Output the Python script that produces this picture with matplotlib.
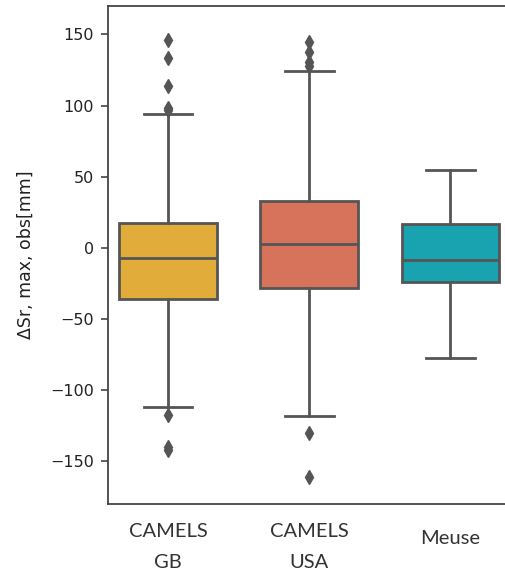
import matplotlib
matplotlib.use("Agg")
import matplotlib.pyplot as plt
from matplotlib.transforms import ScaledTranslation

# box statistics (mm)
datasets = ["CAMELS\nGB", "CAMELS\nUSA", "Meuse"]
colors = ["#E2AC3A", "#D7735A", "#19A3B0"]
q1 = [-35.9, -28.4, -24.4]
med = [-7.5, 2.3, -8.5]
q3 = [17.1, 33.1, 16.9]
whislo = [-111.7, -118.3, -77.2]
whishi = [93.7, 124.2, 54.9]
fliers = [
    [146.0, 133.6, 114.0, 98.4, 97.0, -117.6, -140.0, -142.0],
    [145.0, 138.0, 130.5, 127.7, -130.5, -161.0],
    [],
]

stats = []
for i, lab in enumerate(datasets):
    stats.append({"label": lab, "q1": q1[i], "med": med[i], "q3": q3[i],
                  "whislo": whislo[i], "whishi": whishi[i], "fliers": fliers[i]})

W, H = 506, 580
fig = plt.figure(figsize=(W / 100, H / 100), dpi=100)
# axes runs past the right edge, as in the (cropped) reference
ax = fig.add_axes([108 / W, 76.3 / H, 413 / W, 497.7 / H])

LC = "#555555"
bp = ax.bxp(stats, positions=[0, 1, 2], widths=0.69, patch_artist=True,
            showfliers=True,
            boxprops=dict(edgecolor=LC, linewidth=2.0),
            medianprops=dict(color=LC, linewidth=2.0),
            whiskerprops=dict(color=LC, linewidth=2.0),
            capprops=dict(color=LC, linewidth=2.0),
            flierprops=dict(marker="d", markersize=7.5, markerfacecolor=LC,
                            markeredgecolor=LC, linestyle="none"))
for patch, c in zip(bp["boxes"], colors):
    patch.set_facecolor(c)

ax.set_xlim(-0.425, 2.5)
ax.set_ylim(-180, 170)
ax.set_yticks([-150, -100, -50, 0, 50, 100, 150])
ax.tick_params(axis="y", length=5, width=1.2, color="#444444", labelsize=11.5,
               pad=5, labelcolor="#222222")
ax.tick_params(axis="x", length=0, pad=14)
for sp in ax.spines.values():
    sp.set_color("#444444")
    sp.set_linewidth(1.3)

ax.set_xticks([0, 1, 2])
ax.set_xticklabels(datasets, fontsize=14.5, family=["Lato", "DejaVu Sans"],
                   color="#333333", linespacing=2.0)
# single-line label sits a bit lower in the reference
lbl = ax.get_xticklabels()[2]
lbl.set_transform(lbl.get_transform() + ScaledTranslation(0, -0.065, fig.dpi_scale_trans))

ax.set_ylabel("ΔSr, max, obs[mm]", fontsize=12.5, color="#222222", labelpad=11)

fig.savefig("out.png", dpi=100)
